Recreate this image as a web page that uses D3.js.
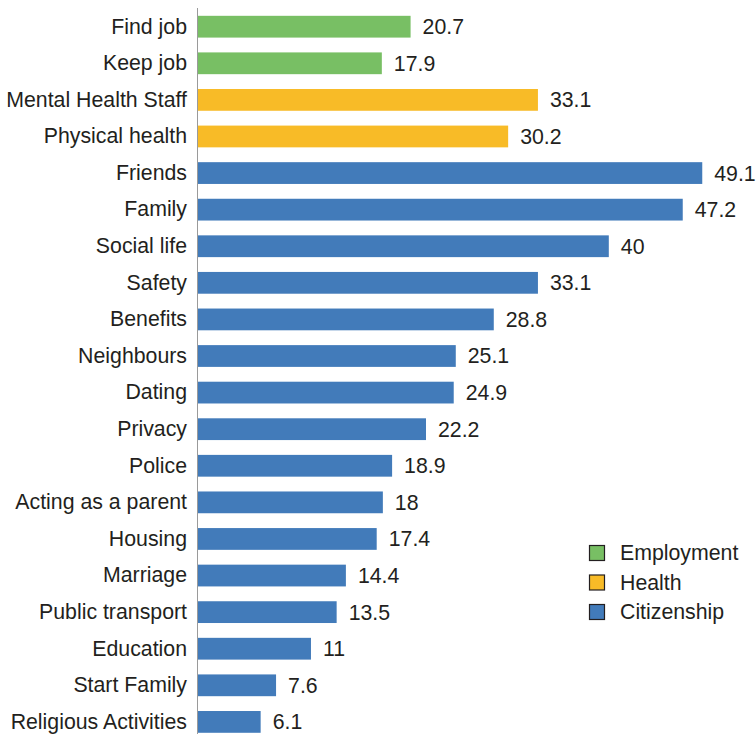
<!DOCTYPE html>
<html>
<head>
<meta charset="utf-8">
<script src="https://cdn.jsdelivr.net/npm/d3@7"></script>
<style>
  html, body { margin: 0; padding: 0; background: #fff; }
  svg { display: block; }
</style>
</head>
<body>
<svg id="chart" width="756" height="734"></svg>
<script>
// Items, top to bottom
const items = [
  "Find job", "Keep job", "Mental Health Staff", "Physical health",
  "Friends", "Family", "Social life", "Safety", "Benefits", "Neighbours",
  "Dating", "Privacy", "Police", "Acting as a parent", "Housing",
  "Marriage", "Public transport", "Education", "Start Family",
  "Religious Activities"
];
const percents = [
  20.7, 17.9, 33.1, 30.2,
  49.1, 47.2, 40, 33.1, 28.8, 25.1,
  24.9, 22.2, 18.9, 18, 17.4,
  14.4, 13.5, 11, 7.6,
  6.1
];
const groups = [
  "Employment", "Employment", "Health", "Health",
  "Citizenship", "Citizenship", "Citizenship", "Citizenship", "Citizenship", "Citizenship",
  "Citizenship", "Citizenship", "Citizenship", "Citizenship", "Citizenship",
  "Citizenship", "Citizenship", "Citizenship", "Citizenship",
  "Citizenship"
];
const groupNames = ["Employment", "Health", "Citizenship"];
const groupColors = ["#78bf64", "#f8bb27", "#427bba"];

const rows = items.map((name, i) => ({ name, value: percents[i], group: groups[i] }));

const svg = d3.select("#chart");
const font = "'Liberation Sans', Arial, Helvetica, sans-serif";
const fontSize = 21.3;
const textColor = "#231f20";

const left = 198;
const x = d3.scaleLinear().domain([0, 10]).range([left, left + 102.7]);
const y = d3.scaleBand()
  .domain(items)
  .range([8.5, 740.1])
  .paddingInner(0.405)
  .paddingOuter(0.2);

const color = d3.scaleOrdinal().domain(groupNames).range(groupColors);

// Bars
svg.append("g")
  .selectAll("rect")
  .data(rows)
  .join("rect")
  .attr("x", x(0))
  .attr("y", d => y(d.name))
  .attr("width", d => x(d.value) - x(0))
  .attr("height", y.bandwidth())
  .attr("fill", d => color(d.group));

// Value labels
svg.append("g")
  .selectAll("text")
  .data(rows)
  .join("text")
  .attr("x", d => x(d.value) + 12)
  .attr("y", d => y(d.name) + y.bandwidth() / 2)
  .attr("dy", "0.35em")
  .attr("font-family", font)
  .attr("font-size", fontSize)
  .attr("fill", textColor)
  .text(d => d.value);

// Category axis
const axis = svg.append("g")
  .attr("transform", `translate(${left},0)`)
  .call(d3.axisLeft(y).tickSize(0).tickPadding(11));
axis.select(".domain").remove();
axis.selectAll("text")
  .attr("font-family", font)
  .attr("font-size", fontSize)
  .attr("fill", textColor);
axis.append("line")
  .attr("x1", -0.5).attr("x2", -0.5)
  .attr("y1", 8).attr("y2", 734)
  .attr("stroke", "#9a9a9a")
  .attr("stroke-width", 1);

// Legend
const legend = svg.append("g").attr("transform", "translate(589,553)");
const lg = legend.selectAll("g")
  .data(groupNames)
  .join("g")
  .attr("transform", (d, i) => `translate(0,${i * 29.5})`);
lg.append("rect")
  .attr("x", 0.5).attr("y", -7.5)
  .attr("width", 15).attr("height", 15)
  .attr("fill", d => color(d))
  .attr("stroke", "#231f20")
  .attr("stroke-width", 1.2);
lg.append("text")
  .attr("x", 31)
  .attr("dy", "0.35em")
  .attr("font-family", font)
  .attr("font-size", fontSize)
  .attr("fill", textColor)
  .text(d => d);
</script>
</body>
</html>
